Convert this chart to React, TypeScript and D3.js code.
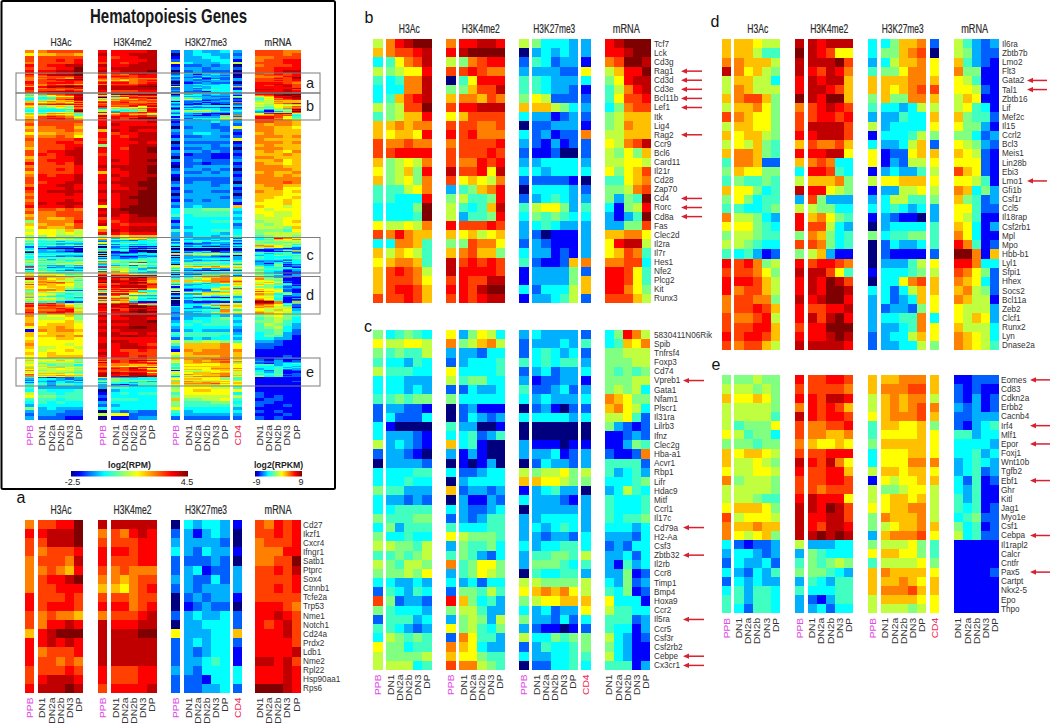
import React from 'react';
import * as d3 from 'd3';

// Every row reads: PPB H3Ac PPB H3K4me2 PPB H3K27me3 CD4 mRNA
// one character per cell, base 15 level on the jet ramp (0 = lowest, e = highest)

const aGenes = ['Cd27', 'Ikzf1', 'Cxcr4', 'Ifngr1', 'Satb1', 'Ptprc', 'Sox4', 'Ctnnb1', 'Tcfe2a', 'Trp53', 'Nme1', 'Notch1', 'Cd24a', 'Prdx2', 'Ldb1', 'Nme2', 'Rpl22', 'Hsp90aa1', 'Rps6'];
const aRows = [
    'a bbcce d ddddd 0 43443 1 bacbc',
    'c cddde a bacdc 2 31343 0 bbcbc',
    'b bddde b bbbcc 3 33332 0 abbbc',
    'b abbbc c ccbcc 4 32433 1 aaacc',
    'a bbbad c bbbcc 2 22232 0 aabbe',
    'a aba9c b abaaa 2 34122 3 bbcbd',
    'a bccde a a9abb 3 32242 3 bbbbc',
    'a bbccc 9 98abc 2 32333 3 bbcbc',
    'c bbbcb b bbabb 0 23233 1 bbbbb',
    'c bcccb c ccabc 0 12322 0 cccba',
    'b abaa9 a bbbcd 2 34334 2 ccdcb',
    'b accdc d cccdd 0 33444 2 cbcdb',
    '9 cdeee d dddee 8 33344 9 cccdb',
    'c cdcdc d ddddd 2 34344 2 ccccb',
    'c abbbc d ddddd 2 32344 1 ccccd',
    'c bbaba d ddddd 2 33454 1 ddcdb',
    'b bbbcb c bbbcc 3 32444 4 cccdc',
    'b cdddc c bbbcc 2 22144 4 cccdc',
    'c ddded b ccccd 2 22334 2 eeedc',
];

const bGenes = ['Tcf7', 'Lck', 'Cd3g', 'Rag1', 'Cd3d', 'Cd3e', 'Bcl11b', 'Lef1', 'Itk', 'Lig4', 'Rag2', 'Ccr9', 'Bcl6', 'Card11', 'Il21r', 'Cd28', 'Zap70', 'Cd4', 'Rorc', 'Cd8a', 'Fas', 'Clec2d', 'Il2ra', 'Il7r', 'Hes1', 'Nfe2', 'Plcg2', 'Kit', 'Runx3'];
const bArrows = ['Rag1', 'Cd3d', 'Cd3e', 'Bcl11b', 'Lef1', 'Rag2', 'Cd4', 'Rorc', 'Cd8a'];
const bRows = [
    '7 acdee a ccddc 7 64443 3 cdeee',
    '9 abbcd c deeee 0 34343 3 ccdee',
    '4 58abd 7 6abcc 2 54233 1 abeed',
    '7 6788c b bcbaa 3 33322 8 79cce',
    '5 45aad 0 58ccc 5 54333 4 68cdd',
    '4 44aad 6 69bbd 5 54332 1 57acd',
    '4 59bcd 9 aa9ba 6 87222 2 58bbc',
    '7 67bbe b ccddd 9 99764 3 46abb',
    '5 6799c 8 9bbbb 4 33123 2 67999',
    '9 9a9aa b bbaab 0 22333 1 67a99',
    '9 8998c c bcaaa 4 23122 a 77999',
    'b aabaa a bbbbc 3 21312 2 87abd',
    'b bcccc b bbbcb 2 11200 2 76869',
    '9 6787a b aacbc 3 34444 3 77887',
    '8 6796c d bbc8d 4 43444 4 8689b',
    '9 6786a b 8987a 2 22221 0 5589a',
    '5 5578a 3 569ac 0 44443 2 667ab',
    '5 5444c 6 7556c 2 34543 3 6365e',
    '4 4446e 7 5459d 5 78863 5 4167c',
    '4 4445e 7 3556c 4 65654 4 3135e',
    '8 7787a c bbbcb 3 45433 3 3366b',
    'b aca99 9 89789 3 20111 3 99aa8',
    '4 4aa95 6 6baa8 2 32111 3 8cdd7',
    '9 79875 9 ab996 4 33121 3 89ba5',
    '8 9aa95 d bcbcb 5 21129 a aabb4',
    '9 bcba7 d ccccb 1 33336 2 ccb85',
    '9 bbba8 b cbbdd 1 33336 9 ccb85',
    '9 bccb9 c cbdee 4 24447 9 cca86',
    'b bbcb9 b cbcdd 1 33457 2 bbb97',
];

const cGenes = ['5830411N06Rik', 'Spib', 'Tnfrsf4', 'Foxp3', 'Cd74', 'Vpreb1', 'Gata1', 'Nfam1', 'Plscr1', 'Il31ra', 'Lilrb3', 'Ifnz', 'Clec2g', 'Hba-a1', 'Acvr1', 'Rbp1', 'Lifr', 'Hdac9', 'Mitf', 'Ccrl1', 'Il17c', 'Cd79a', 'H2-Aa', 'Csf3', 'Zbtb32', 'Il2rb', 'Ccr8', 'Timp1', 'Bmp4', 'Hoxa9', 'Ccr2', 'Il5ra', 'Ccr5', 'Csf3r', 'Csf2rb2', 'Cebpe', 'Cx3cr1'];
const cArrows = ['Vpreb1', 'Cd79a', 'Zbtb32', 'Il5ra', 'Cebpe', 'Cx3cr1'];
const cRows = [
    '6 45654 8 36874 3 43333 2 46ca7',
    '8 77887 a 679a7 2 33343 5 4598a',
    '6 56557 3 33244 2 45434 2 66777',
    '5 44354 2 34445 5 45455 3 66677',
    '7 55544 8 44445 2 34233 4 65656',
    '4 44333 7 56644 3 12233 1 66677',
    '4 44343 2 24334 5 22342 3 67674',
    '5 56566 6 44444 4 34333 4 a9866',
    '2 33221 0 23111 0 23102 2 9a874',
    '2 42224 0 24323 4 44443 4 77852',
    '4 10000 5 33001 0 00000 0 63212',
    '4 33321 4 45235 0 00000 0 11232',
    '7 34321 9 45100 3 11101 1 11365',
    '2 33210 3 13100 3 33412 3 2112a',
    '0 33332 0 10130 0 24332 3 55552',
    '4 44455 4 22344 7 67786 7 53453',
    '4 44544 0 34444 9 98876 6 44456',
    '6 55333 9 23323 1 34533 0 34754',
    '4 33232 0 31132 4 33321 3 54445',
    '4 45555 4 32234 0 33333 3 54445',
    '6 55566 2 32355 3 34444 3 54556',
    '4 63555 5 44455 3 43454 3 44434',
    '6 44544 8 76665 3 32332 4 33324',
    '7 76657 3 65564 4 34455 4 23244',
    '5 56567 5 65324 3 55665 7 33424',
    '7 65776 a 56886 3 66654 5 31534',
    '6 66768 3 56876 0 54455 3 33612',
    '4 43343 4 34244 7 76666 7 43623',
    '2 54354 2 66575 8 9a9a8 7 54612',
    'b 62332 c 96453 6 78899 9 84441',
    '6 54443 6 77533 4 34233 8 75544',
    '2 55534 3 67637 6 33242 4 55523',
    '5 54323 8 67546 3 21101 2 54413',
    '4 76565 2 a8553 7 44656 6 74312',
    '8 66455 a 98433 2 35445 6 64311',
    '7 66667 9 88655 4 33445 5 74311',
    '7 77745 b aa765 0 22445 4 55513',
];

const dGenes = ['Il6ra', 'Zbtb7b', 'Lmo2', 'Flt3', 'Gata2', 'Tal1', 'Zbtb16', 'Lif', 'Mef2c', 'Il15', 'Ccrl2', 'Bcl3', 'Meis1', 'Lin28b', 'Ebi3', 'Lmo1', 'Gfi1b', 'Csf1r', 'Ccl5', 'Il18rap', 'Csf2rb1', 'Mpl', 'Mpo', 'Hbb-b1', 'Lyl1', 'Sfpi1', 'Hhex', 'Socs2', 'Bcl11a', 'Zeb2', 'Clcf1', 'Runx2', 'Lyn', 'Dnase2a'];
const dArrows = ['Gata2', 'Tal1', 'Lmo1'];
const dRows = [
    '9 99877 d dcddd 4 4699a 2 75323',
    '9 99755 e dcb88 4 669ab 0 76322',
    'a a9997 d dddeb 3 4799a 8 95321',
    'd a8976 d cbdca 5 668aa 8 a6611',
    '7 99774 c dcdd9 9 999aa 9 87511',
    '7 a9777 c ddcb9 9 989ab b 88721',
    '9 abb96 e dcee9 6 966aa 9 79811',
    '7 99a86 a bcdcb 5 44347 7 78541',
    'b a9886 b bccbc 3 33544 9 96552',
    '7 99886 b ddddb 7 34444 8 86631',
    '9 89976 c cdddb 1 44457 6 66423',
    '7 87965 9 baab9 4 33479 2 87632',
    '9 aa965 c ccdd8 8 12289 9 98721',
    '5 aa922 9 aba44 8 13277 8 88821',
    '6 98866 4 ccb54 1 34335 7 b9821',
    '5 65565 7 999a6 7 88999 8 88751',
    '9 88645 d cc876 1 33778 7 a9463',
    '6 86455 3 b6333 3 47755 6 96523',
    '5 54456 7 76644 4 45434 3 88522',
    'a 77643 c 9a865 1 32110 3 87511',
    '8 88654 c bb743 0 34444 5 98413',
    '6 77655 6 a9645 6 45566 5 a8411',
    '7 76544 b ba645 0 24334 5 ca512',
    '5 45312 6 79311 0 21111 2 eea19',
    'c bca67 c bccba 0 33357 8 cca44',
    'b bba86 d ddb85 1 44456 7 ba862',
    'c ccb97 c dcedb 0 448ab 9 a9842',
    'c abb97 c dceed 4 42479 9 9a762',
    'a bbaa6 d cdeec 3 42349 8 a9771',
    'a bbcb9 c bbccd 3 23326 8 87773',
    'b aabc7 c dbdec 3 4455a 4 87983',
    'b bbcc9 b cceee 3 3345a 8 97774',
    'c bccb9 c ccded 2 34479 8 a9874',
    'b abb97 d ddddc 2 33447 6 a9875',
];

const eGenes = ['Eomes', 'Cd83', 'Cdkn2a', 'Erbb2', 'Cacnb4', 'Irf4', 'Mlf1', 'Epor', 'Foxj1', 'Wnt10b', 'Tgfb2', 'Ebf1', 'Ghr', 'Kitl', 'Jag1', 'Myo1e', 'Csf1', 'Cebpa', 'Il1rapl2', 'Calcr', 'Cntfr', 'Pax5', 'Cartpt', 'Nkx2-5', 'Epo', 'Thpo'];
const eArrows = ['Eomes', 'Irf4', 'Epor', 'Ebf1', 'Cebpa', 'Pax5'];
const eRows = [
    '6 66766 c bbccb 9 99aaa 9 11222',
    '7 77676 b bbbba 9 aaabb 9 21211',
    '9 88986 c cbddc 7 9a9aa 7 21312',
    '7 77776 a cbcb9 7 9a9ab a 32312',
    '7 77775 d cbccb 8 9aaab 9 22333',
    '7 56668 b aabbc 5 99889 6 21345',
    '8 75664 b aa99a 5 88889 8 55344',
    '6 66566 a 98898 6 99999 8 44443',
    '9 89987 b bbccc 4 88899 8 44534',
    '9 77876 d cbda8 4 888aa a 34543',
    '8 77887 c bbcc9 7 99899 8 34523',
    'a 67776 b bbccb 1 87889 9 42512',
    '7 77776 b babbb 7 66788 7 43511',
    '7 77655 c dccc8 7 89989 7 53511',
    '8 99986 d dcedb 8 899aa 7 54512',
    'b 78887 d ccddb 6 a999a 7 45622',
    'a 99a99 d cbddc 6 7899a 9 64512',
    'a 87896 d deded 3 9aaab 8 74522',
    '4 21223 7 33344 6 77786 5 11111',
    '3 44323 3 65444 8 99886 5 11111',
    '2 43342 5 65676 5 77778 6 11111',
    '4 32435 6 66543 9 a9999 8 11112',
    '2 43433 3 54355 9 99a98 9 11111',
    '4 53554 5 44455 9 aaab9 9 11111',
    '5 53554 3 21355 7 99998 8 11111',
    '5 42554 3 34244 7 77767 8 11111',
];

// parts of the overview that have no detail panel
const overviewTop = [
    'a abbbb c ccccd 2 34334 3 bbbaa',
    '8 99aa9 d ccddd 0 34433 2 bbbab',
    'b bbbbb c bccdd 1 33443 3 aabbb',
    'b bbcbc c ccccd 2 33344 1 abbcc',
    'a bbbbc b cbcdd 8 43334 7 bbbcc',
    'c bccdd d ccddd 1 22323 0 abbbc',
    'b bbcce c ddddd 2 33233 2 bbccc',
    'c ccdde d cddde 0 23222 0 bbcdd',
];
const overviewMiddle = [
    'a bbbbb c ccccd 1 33343 3 bbaa9',
    'b bbbba c dcccc 2 33323 2 a9aa9',
    '9 aabb9 d ccddd 0 23322 8 aa998',
    'a aaaba 9 dcdcc 3 33332 2 aa999',
    '8 99aa9 c bccdd 2 34433 1 9a999',
    'a aaba8 c cbcdd 1 22332 2 aaa9a',
    'b bbbbc b ccddd 3 33333 8 a9999',
    'a bbccb c cccdc 0 22222 1 aaa9a',
    'a bbbcc 6 ccddd 2 33323 2 9a999',
    '9 bbbcd c cbdde 1 22322 0 aaa99',
    'b bccdd c ccdde 3 33232 2 9a98a',
    'b cbcdd b ccddd 2 12211 1 999a9',
    '9 bbccd c ccddd 0 22211 2 aa999',
    'a bcccd c dcdde 3 23222 3 99a89',
    'c bbcbd c ccddd 1 22122 1 a9989',
    'a bbbbc d dddde 0 23333 2 aaa99',
    'b bbcbc c cddde 2 33232 0 aaaa9',
    '9 bbbbc 9 ccdde 3 22323 2 9a99a',
    'a cbccd c dcddd 1 33333 1 aa9a9',
    'b ccccd c cddde 0 22222 2 aaaaa',
    'b bccdd d dddee 2 23322 0 aaaba',
    'a ccddc c cddee 3 33323 3 9aa99',
    'c cccdc c ccdde 1 33333 1 99a88',
    'b cdddd d dddee 2 23322 2 a9989',
    'a cccdc c cddee 0 33333 0 99988',
    'b ccccc c cdeee 2 33332 2 99889',
    'a cccdc d cddee 1 23233 3 98898',
    'b dcddd c cddee 3 33333 1 88898',
    'c cccdc 8 cdeee 2 34333 9 98878',
    'a bbaba d deeee 4 55666 4 87888',
    'b aabbb c ddeee 4 55555 3 88778',
    '9 aabbb d dcdee 5 45555 4 78778',
    'a a99ab b ccddd 3 44444 3 77788',
    '6 aaaac c bcddd 1 44455 4 67789',
    '9 9aa9b d cbccc 3 44444 2 76788',
    '8 a99ab 8 ccddd 2 34444 3 77769',
    '7 88797 a dcddd 5 44455 4 66658',
    '8 88787 c cbccc 3 34443 4 67777',
    '6 68667 6 98999 3 34434 5 56776',
];
const overviewLower = [
    'a 78896 d cdddd 3 33343 3 67865',
    '9 77786 c ccddc 2 34456 4 56764',
    '9 88897 d dddde 3 45455 3 66754',
    'a 89998 c ccddd 4 54555 4 57653',
    '8 99a98 d ddeed 3 44444 3 56743',
    '1 a9aa9 c cdddd 2 34333 2 55642',
    '9 89998 d dccdc 5 55555 3 45632',
    '9 99a9a d deedd 4 55554 4 46531',
    '8 88998 c ccccc 2 34344 3 44331',
    '9 88888 c ddccc 7 66776 5 33211',
    'a 88878 d cddcb 5 9999a 8 22211',
    '9 77887 d cdddc 3 9999a 8 22111',
    '8 78898 c cbbcb 1 a9aaa a 11111',
    '9 89888 d ccbbb 8 9aaaa 9 11111',
    '8 89999 c ccbcb 6 9999a 9 11121',
];
const overviewBottom = [
    '5 33333 3 55444 6 88877 5 11111',
    '4 54445 0 34444 7 89988 8 11111',
    '7 55455 1 45455 5 88888 4 21111',
    '8 66555 2 44444 6 77777 7 21211',
    '5 55455 1 55544 9 66778 5 12211',
    '4 54544 3 44444 6 55566 4 22111',
    '3 44444 2 34444 6 55555 5 21121',
    '6 34333 4 44444 8 44444 3 11111',
    '3 33322 0 32322 5 34444 4 21211',
    '2 33222 7 88222 4 33333 3 11121',
    '3 22211 0 11233 2 22222 2 21211',
];

const assays = ['H3Ac', 'H3K4me2', 'H3K27me3', 'mRNA'];
const stages = ['DN1', 'DN2a', 'DN2b', 'DN3', 'DP'];
const jetStops = ['#00007f', '#0000ff', '#0060ff', '#00b0ff', '#00ffff', '#40ffc0', '#80ff80', '#c0ff40', '#ffff00', '#ffc000', '#ff8000', '#ff4000', '#ff0000', '#c00000', '#7f0000'];

const width = 1050,
    height = 725;

const FONT = '"Liberation Sans", Arial, sans-serif';
const PPB_COLOR = '#e24be6',
    CD4_COLOR = '#ee2a55',
    ARROW_COLOR = '#d8202f',
    TEXT_COLOR = '#2a2a2a';

const jet = d3.scaleLinear<string>().domain(jetStops.map((_, i) => i)).range(jetStops).clamp(true);

// track extents of the left-hand layout, other panels are shifted copies
const tracks: [number, number][] = [[25, 34.3], [37.7, 83.3], [98, 107.4], [110.8, 156.5], [171, 180.3], [184, 229.5], [233, 242.4], [255.3, 301]];
const headerX = [61, 132.5, 206, 278];
const headerW = [21, 38, 42, 27];

const parseRow = (row: string) => row.split(' ').map(part => part.split('').map(c => parseInt(c, 15)));

const HeatCells = ({ rows, y0, y1, dx, mrnaDx = 0 }: { rows: string[], y0: number, y1: number, dx: number, mrnaDx?: number }) => {
    const y = d3.scaleBand<number>().domain(d3.range(rows.length)).range([y0, y1]);
    return (
        <g shapeRendering='crispEdges'>
            {rows.map((row, r) => parseRow(row).map((cells, t) => {
                const shift = dx + (t === 7 ? mrnaDx : 0);
                const x = d3.scaleBand<number>().domain(d3.range(cells.length)).range([tracks[t][0] + shift, tracks[t][1] + shift]);
                return cells.map((v, c) => (
                    <rect key={`${r}-${t}-${c}`} x={x(c)} y={y(r)} width={x.bandwidth()} height={y.bandwidth()} fill={jet(v)} />
                ));
            }))}
        </g>
    );
};

const Headers = ({ dx, y, size = 12.5 }: { dx: number, y: number, size?: number }) => (
    <g fontSize={size} fill={TEXT_COLOR} stroke={TEXT_COLOR} strokeWidth={0.2}>
        {assays.map((a, i) => (
            <text key={a} x={headerX[i] + dx} y={y} textAnchor='middle' textLength={headerW[i]} lengthAdjust='spacingAndGlyphs'>{a}</text>
        ))}
    </g>
);

const ColumnLabels = ({ dx, y, mrnaDx = 0 }: { dx: number, y: number, mrnaDx?: number }) => {
    const labels: { text: string, x: number, fill: string }[] = [];
    tracks.forEach((t, i) => {
        const shift = dx + (i === 7 ? mrnaDx : 0);
        if (i === 6) {
            labels.push({ text: 'CD4', x: (t[0] + t[1]) / 2 + shift, fill: CD4_COLOR });
        } else if (i === 0 || i === 2 || i === 4) {
            labels.push({ text: 'PPB', x: (t[0] + t[1]) / 2 + shift, fill: PPB_COLOR });
        } else {
            const x = d3.scaleBand<string>().domain(stages).range([t[0] + shift, t[1] + shift]);
            stages.forEach(s => labels.push({ text: s, x: (x(s) as number) + x.bandwidth() / 2, fill: '#333' }));
        }
    });
    // the reference stretches these labels along their reading direction
    return (
        <g fontSize={9}>
            {labels.map((l, i) => (
                <text key={i} transform={`translate(${l.x + 3.2},${y}) rotate(-90) scale(1.14,1)`} textAnchor='end' fill={l.fill}>{l.text}</text>
            ))}
        </g>
    );
};

interface PanelProps {
    letter: string;
    letterX: number;
    letterY: number;
    genes: string[];
    rows: string[];
    arrows?: string[];
    arrowX?: [number, number];
    top: number;
    bottom: number;
    dx: number;
    mrnaDx?: number;
    labelX: number;
    headerY?: number;
    columnLabels?: boolean;
}

const Panel = ({ letter, letterX, letterY, genes, rows, arrows = [], arrowX, top, bottom, dx, mrnaDx = 0, labelX, headerY, columnLabels }: PanelProps) => {
    const y = d3.scaleBand<string>().domain(genes).range([top, bottom]);
    return (
        <g>
            <text x={letterX} y={letterY} fontSize={16} textAnchor='middle' fill='#111'>{letter}</text>
            {headerY !== undefined && <Headers dx={dx} y={headerY} />}
            <g filter='url(#soft)'>
                <HeatCells rows={rows} y0={top} y1={bottom} dx={dx} mrnaDx={mrnaDx} />
            </g>
            <g fontSize={8.2} fill='#333'>
                {genes.map(g => (
                    <text key={g} x={labelX} y={(y(g) as number) + y.bandwidth() / 2} dy='0.36em'>{g}</text>
                ))}
            </g>
            {columnLabels && <ColumnLabels dx={dx} y={bottom + 4.5} mrnaDx={mrnaDx} />}
            {arrowX && arrows.map(g => {
                const ay = (y(g) as number) + y.bandwidth() / 2;
                return (
                    <g key={g}>
                        <line x1={arrowX[0] + 4} x2={arrowX[1]} y1={ay} y2={ay} stroke={ARROW_COLOR} strokeWidth={1.5} />
                        <path d={`M${arrowX[0]},${ay}L${arrowX[0] + 6},${ay - 2.6}L${arrowX[0] + 6},${ay + 2.6}Z`} fill={ARROW_COLOR} />
                    </g>
                );
            })}
        </g>
    );
};

const ColorBar = ({ id, title, domain, x0, x1, labels }: { id: string, title: string, domain: [number, number], x0: number, x1: number, labels: string[] }) => {
    const x = d3.scaleLinear().domain(domain).range([x0, x1]);
    return (
        <g>
            <defs>
                <linearGradient id={id}>
                    {jetStops.map((c, i) => <stop key={c} offset={i / (jetStops.length - 1)} stopColor={c} />)}
                </linearGradient>
            </defs>
            <text x={(x0 + x1) / 2} y={468} textAnchor='middle' fontSize={8.7} fontWeight='bold' fill='#222'>{title}</text>
            <rect x={x0} y={471} width={x1 - x0} height={5.5} fill={`url(#${id})`} />
            <g fontSize={9} fill='#222'>
                <text x={x(domain[0]) + 1.5} y={484.5} textAnchor='middle'>{labels[0]}</text>
                <text x={x(domain[1]) - 1} y={484.5} textAnchor='middle'>{labels[1]}</text>
            </g>
        </g>
    );
};

// overview stack, each section with its vertical extent
const overviewSections: [string[], number, number][] = [
    [overviewTop, 50, 73],
    [aRows, 73, 93],
    [bRows, 93, 120],
    [overviewMiddle, 120, 238],
    [cRows, 238, 275],
    [dRows, 275, 314],
    [overviewLower, 314, 358],
    [eRows, 358, 386],
    [overviewBottom, 386, 419.5],
];

const overviewBoxes: [string, number, number][] = [
    ['a', 73, 93],
    ['b', 93, 120],
    ['c', 237.5, 273],
    ['d', 276.5, 314],
    ['e', 358, 386],
];

const App = () => (
    <svg width={width} height={height} fontFamily={FONT} style={{ position: 'absolute', left: 0, top: 0, background: '#fff' }}>
        <defs>
            <filter id='soft' colorInterpolationFilters='sRGB'>
                <feGaussianBlur stdDeviation='0.45' />
            </filter>
            <filter id='softer' colorInterpolationFilters='sRGB'>
                <feGaussianBlur stdDeviation='0.7' />
            </filter>
        </defs>

        {/* overview */}
        <rect x={1.5} y={1} width={333.5} height={488} fill='none' stroke='#000' strokeWidth={2} rx={1.5} />
        <text x={168.5} y={23} textAnchor='middle' fontSize={20.5} fontWeight='bold' fill='#1a1a1a' textLength={157} lengthAdjust='spacingAndGlyphs'>Hematopoiesis Genes</text>
        <Headers dx={0} y={45.5} size={11.5} />
        <g filter='url(#softer)'>
            {overviewSections.map(([rows, y0, y1], i) => <HeatCells key={i} rows={rows} y0={y0} y1={y1} dx={0} />)}
        </g>
        {overviewBoxes.map(([name, y0, y1]) => (
            <g key={name}>
                <rect x={16} y={y0} width={304} height={y1 - y0} fill='none' stroke='#7d7d7d' strokeWidth={1} />
                <text x={310} y={(y0 + y1) / 2} dy='0.33em' textAnchor='middle' fontSize={14.5} fill='#1a1a1a'>{name}</text>
            </g>
        ))}
        <ColumnLabels dx={0} y={425} />
        <ColorBar id='bar-rpm' title='log2(RPM)' domain={[-2.5, 4.5]} x0={71} x1={188} labels={['-2.5', '4.5']} />
        <ColorBar id='bar-rpkm' title='log2(RPKM)' domain={[-9, 9]} x0={255} x1={302} labels={['-9', '9']} />

        <Panel letter='a' letterX={21} letterY={503} genes={aGenes} rows={aRows} top={520} bottom={693} dx={0} labelX={303} headerY={514} columnLabels />
        <Panel letter='b' letterX={369} letterY={23} genes={bGenes} rows={bRows} arrows={bArrows} arrowX={[681, 702]} top={39.3} bottom={303} dx={348.3} mrnaDx={1.7} labelX={654} headerY={33} />
        <Panel letter='c' letterX={368} letterY={332} genes={cGenes} rows={cRows} arrows={cArrows} arrowX={[683, 704]} top={330} bottom={670} dx={348.3} mrnaDx={1} labelX={654} columnLabels />
        <Panel letter='d' letterX={715} letterY={27} genes={dGenes} rows={dRows} arrows={dArrows} arrowX={[1027, 1047]} top={39.3} bottom={350} dx={696.7} mrnaDx={1.6} labelX={1002} headerY={33} />
        <Panel letter='e' letterX={716} letterY={370} genes={eGenes} rows={eRows} arrows={eArrows} arrowX={[1030, 1050]} top={375.3} bottom={613.3} dx={696.7} mrnaDx={1.6} labelX={1001} columnLabels />
    </svg>
);

export default App;
